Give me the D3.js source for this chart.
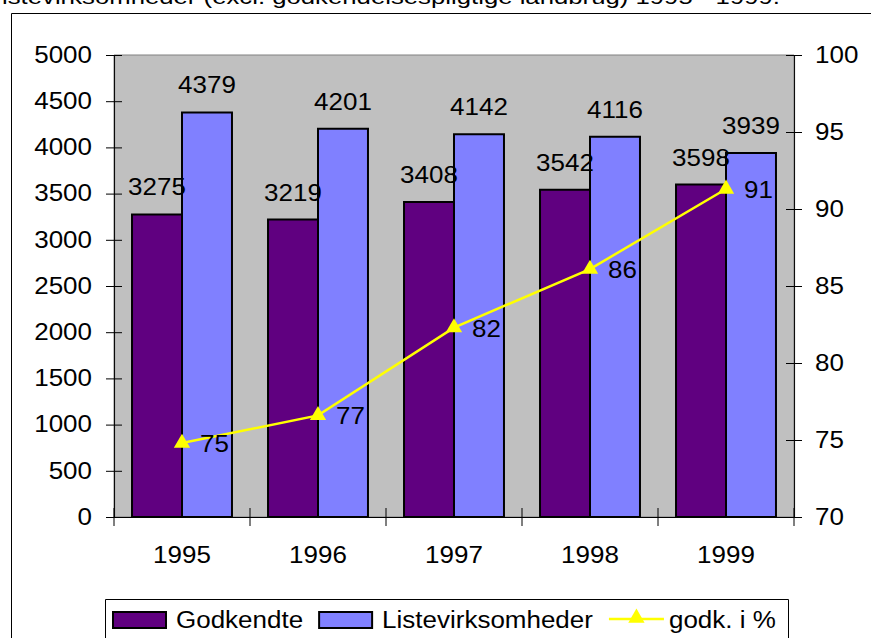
<!DOCTYPE html>
<html lang="da">
<head>
<meta charset="utf-8">
<title>Godkendte og listevirksomheder 1995-1999</title>
<script src="https://d3js.org/d3.v7.min.js"></script>
<style>
  body { margin: 0; background: #fff; }
  svg text { font-family: "Liberation Sans", Arial, sans-serif; fill: #000; }
</style>
</head>
<body>
<div id="chart"></div>
<script>
// data
const years = ["1995", "1996", "1997", "1998", "1999"];
const godkendte = [3275, 3219, 3408, 3542, 3598];
const listevirksomheder = [4379, 4201, 4142, 4116, 3939];
const godkPct = [74.8, 76.6, 82.3, 86.1, 91.3];
const leftTicks = [0, 500, 1000, 1500, 2000, 2500, 3000, 3500, 4000, 4500, 5000];
const rightTicks = [70, 75, 80, 85, 90, 95, 100];
const seriesNames = ["Godkendte", "Listevirksomheder", "godk. i %"];
const seriesColors = ["#600080", "#8080ff", "#ffff00"];

const W = 871, H = 638;
// the original chart is stretched horizontally, so everything is drawn in a
// narrower space and scaled up on x
const SX = 1.13;
const px = v => v / SX;
const FS = 23;

const plot = { left: 114, right: 794, top: 55, bottom: 517 };

const svg = d3.select("#chart").append("svg")
  .attr("width", W).attr("height", H);

const g = svg.append("g").attr("transform", `scale(${SX},1)`);

// title line (cut off at the top of the picture)
g.append("text")
  .attr("x", px(2)).attr("y", 4)
  .attr("font-size", 20)
  .attr("textLength", px(778))
  .attr("lengthAdjust", "spacingAndGlyphs")
  .text("istevirksomheder (excl. godkendelsespligtige landbrug) 1995 - 1999.");

// chart border
g.append("rect")
  .attr("x", px(11.5)).attr("y", 13.5)
  .attr("width", px(900)).attr("height", 700)
  .attr("fill", "none").attr("stroke", "#000")
  .attr("vector-effect", "non-scaling-stroke");

// scales
const x = d3.scaleBand()
  .domain(years)
  .range([px(plot.left), px(plot.right)])
  .paddingInner(0.265).paddingOuter(0.1325);
const xSub = d3.scaleBand()
  .domain([0, 1])
  .range([0, x.bandwidth()]);
const y = d3.scaleLinear().domain([0, 5000]).range([plot.bottom, plot.top]);
const y2 = d3.scaleLinear().domain([70, 100]).range([plot.bottom, plot.top]);

// plot area
g.append("rect")
  .attr("x", px(plot.left)).attr("y", plot.top)
  .attr("width", px(plot.right - plot.left)).attr("height", plot.bottom - plot.top)
  .attr("fill", "#c0c0c0").attr("stroke", "#808080")
  .attr("vector-effect", "non-scaling-stroke");

// left axis
const axL = g.append("g")
  .attr("transform", `translate(${px(plot.left)},0)`)
  .call(d3.axisLeft(y).tickValues(leftTicks).tickFormat(d3.format("d"))
    .tickSize(px(8)).tickPadding(px(14)).tickSizeOuter(0));
axL.selectAll(".tick line").attr("x1", px(8));
// right axis
const axR = g.append("g")
  .attr("transform", `translate(${px(plot.right)},0)`)
  .call(d3.axisRight(y2).tickValues(rightTicks).tickFormat(d3.format("d"))
    .tickSize(px(8)).tickPadding(px(13)).tickSizeOuter(0));
axR.selectAll(".tick line").attr("x1", -px(8));
// bottom axis: labels at centres, ticks at category borders
const axB = g.append("g")
  .attr("transform", `translate(0,${plot.bottom})`)
  .call(d3.axisBottom(x).tickSize(0).tickPadding(30).tickSizeOuter(0));
const borders = years.map(c => x(c) - (x.step() - x.bandwidth()) / 2)
  .concat([px(plot.right)]);
axB.selectAll("line.border").data(borders).join("line")
  .attr("class", "border")
  .attr("x1", d => d).attr("x2", d => d)
  .attr("y1", -9).attr("y2", 9)
  .attr("stroke", "#000");

[axL, axR, axB].forEach(a => {
  a.attr("font-size", null).attr("font-family", null);
  a.selectAll("text").attr("font-size", FS);
  a.selectAll("line, path").attr("vector-effect", "non-scaling-stroke").attr("stroke", "#000");
});

// bars
const barData = [];
years.forEach((yr, i) => {
  barData.push({ yr, s: 0, v: godkendte[i] });
  barData.push({ yr, s: 1, v: listevirksomheder[i] });
});
const bars = g.append("g");
bars.selectAll("rect").data(barData).join("rect")
  .attr("x", d => x(d.yr) + xSub(d.s))
  .attr("y", d => y(d.v))
  .attr("width", xSub.bandwidth())
  .attr("height", d => y(0) - y(d.v))
  .attr("fill", d => seriesColors[d.s])
  .attr("stroke", "#000").attr("stroke-width", 2)
  .attr("vector-effect", "non-scaling-stroke");
bars.selectAll("text").data(barData).join("text")
  .attr("x", d => x(d.yr) + xSub(d.s) + xSub.bandwidth() / 2)
  .attr("y", d => y(d.v) - 19)
  .attr("text-anchor", "middle")
  .attr("font-size", FS)
  .text(d => d.v);

// line with triangle markers
const lineData = years.map((yr, i) => ({ x: x(yr) + x.bandwidth() / 2, v: godkPct[i] }));
g.append("path")
  .datum(lineData)
  .attr("d", d3.line().x(d => d.x).y(d => y2(d.v)))
  .attr("fill", "none").attr("stroke", seriesColors[2]).attr("stroke-width", 2.5)
  .attr("vector-effect", "non-scaling-stroke");
const tri = d3.symbol().type(d3.symbolTriangle).size(115);
g.append("g").selectAll("path").data(lineData).join("path")
  .attr("transform", d => `translate(${d.x},${y2(d.v)}) scale(${1 / SX},1)`)
  .attr("d", tri)
  .attr("fill", seriesColors[2]);
g.append("g").selectAll("text").data(lineData).join("text")
  .attr("x", d => d.x + px(18))
  .attr("y", d => y2(d.v) + 9)
  .attr("font-size", FS)
  .text(d => d3.format(".0f")(d.v));

// legend
const leg = { left: 105, top: 599, right: 788, bottom: 641 };
g.append("rect")
  .attr("x", px(leg.left + 0.5)).attr("y", leg.top + 0.5)
  .attr("width", px(leg.right - leg.left)).attr("height", leg.bottom - leg.top)
  .attr("fill", "#fff").attr("stroke", "#000")
  .attr("vector-effect", "non-scaling-stroke");
let cx = px(113);
const midY = 620;
seriesNames.forEach((name, i) => {
  const item = g.append("g");
  let keyW;
  if (i < 2) {
    keyW = px(53);
    item.append("rect")
      .attr("x", cx).attr("y", midY - 8)
      .attr("width", keyW).attr("height", 16)
      .attr("fill", seriesColors[i]).attr("stroke", "#000").attr("stroke-width", 2)
      .attr("vector-effect", "non-scaling-stroke");
  } else {
    keyW = px(55);
    item.append("line")
      .attr("x1", cx).attr("x2", cx + keyW)
      .attr("y1", midY - 1).attr("y2", midY - 1)
      .attr("stroke", seriesColors[i]).attr("stroke-width", 2.5)
      .attr("vector-effect", "non-scaling-stroke");
    item.append("path")
      .attr("transform", `translate(${cx + keyW / 2},${midY - 2}) scale(${1 / SX},1)`)
      .attr("d", tri).attr("fill", seriesColors[i]);
  }
  const tx = cx + keyW + (i < 2 ? px(10) : px(5));
  const t = item.append("text")
    .attr("x", tx).attr("y", midY + 8)
    .attr("font-size", FS)
    .text(name);
  cx = tx + t.node().getComputedTextLength() + px(16);
});
</script>
</body>
</html>
